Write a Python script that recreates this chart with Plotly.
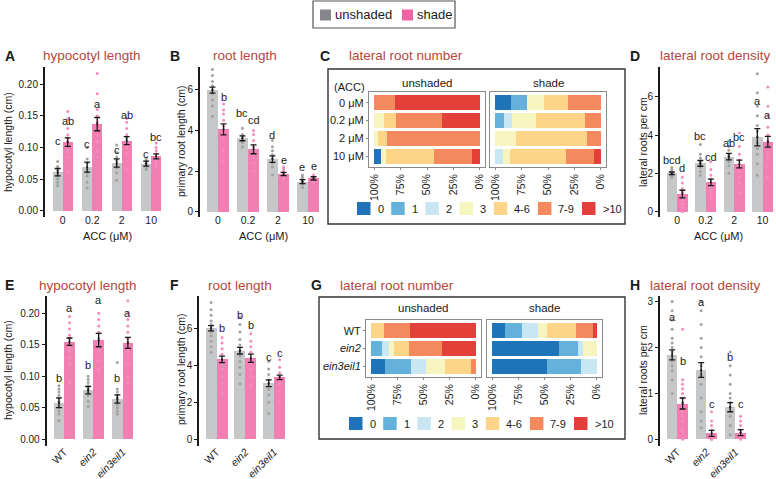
import plotly.graph_objects as go

W, H = 776, 479
FONT = "Liberation Sans, Arial, sans-serif"

# ---------------- data ----------------
acc_levels = ["0", "0.2", "2", "10"]
genotypes = ["WT", "<i>ein2</i>", "<i>ein3eil1</i>"]

# A: hypocotyl length (cm), ACC series
hypA_unsh = [0.061, 0.069, 0.0755, 0.0745]
hypA_unsh_se = [0.0058, 0.0079, 0.0066, 0.0040]
hypA_shade = [0.1085, 0.137, 0.111, 0.086]
hypA_shade_se = [0.0068, 0.0105, 0.0063, 0.0040]
hypA_let_unsh = ["c", "c", "c", "c"]
hypA_let_shade = ["ab", "a", "ab", "bc"]
hypA_lety_unsh = [0.111, 0.106, 0.0955, 0.090]
hypA_lety_shade = [0.1425, 0.169, 0.152, 0.116]
hypA_pts_unsh = [
    [0.040, 0.045, 0.050, 0.055, 0.060, 0.064, 0.070, 0.078],
    [0.036, 0.045, 0.055, 0.060, 0.066, 0.075, 0.082, 0.100],
    [0.048, 0.060, 0.068, 0.074, 0.080, 0.085, 0.092, 0.104],
    [0.065, 0.068, 0.072, 0.075, 0.078, 0.080, 0.083],
]
hypA_pts_shade = [
    [0.061, 0.085, 0.095, 0.105, 0.110, 0.115, 0.120, 0.130, 0.145, 0.157],
    [0.085, 0.095, 0.110, 0.120, 0.130, 0.140, 0.150, 0.160, 0.185, 0.217],
    [0.065, 0.090, 0.100, 0.105, 0.110, 0.115, 0.120, 0.130, 0.140, 0.146],
    [0.070, 0.075, 0.080, 0.085, 0.090, 0.095, 0.100, 0.107],
]

# B: primary root length (cm), ACC series
rootB_unsh = [5.98, 3.61, 2.59, 1.48]
rootB_unsh_se = [0.15, 0.12, 0.16, 0.10]
rootB_shade = [4.05, 3.07, 1.85, 1.64]
rootB_shade_se = [0.27, 0.22, 0.08, 0.08]
rootB_let_unsh = ["a", "bc", "d", "e"]
rootB_let_shade = ["b", "cd", "e", "e"]
rootB_lety_unsh = [7.2, 4.84, 3.77, 2.21]
rootB_lety_shade = [5.66, 4.51, 2.54, 2.25]
rootB_pts_unsh = [
    [4.7, 5.2, 5.5, 5.8, 6.0, 6.2, 6.4, 6.7, 7.0],
    [3.2, 3.4, 3.5, 3.6, 3.7, 3.8, 4.1],
    [1.8, 2.2, 2.4, 2.6, 2.8, 3.0, 3.2, 3.5],
    [1.2, 1.35, 1.45, 1.5, 1.6, 1.7, 1.8],
]
rootB_pts_shade = [
    [2.5, 3.0, 3.6, 3.9, 4.2, 4.5, 4.8, 5.0, 5.3],
    [2.0, 2.4, 2.7, 3.0, 3.2, 3.5, 3.8, 4.0],
    [1.6, 1.7, 1.8, 1.9, 2.0, 2.1, 2.2],
    [1.45, 1.55, 1.6, 1.65, 1.7, 1.8],
]

# D: lateral root density, ACC series
lrdD_unsh = [2.0, 2.52, 2.87, 3.88]
lrdD_unsh_se = [0.07, 0.15, 0.17, 0.45]
lrdD_shade = [0.92, 1.53, 2.49, 3.65]
lrdD_shade_se = [0.20, 0.17, 0.20, 0.28]
lrdD_let_unsh = ["bcd", "bc", "ab", "a"]
lrdD_let_shade = ["d", "cd", "bc", "a"]
lrdD_lety_unsh = [2.7, 3.95, 3.6, 5.8]
lrdD_lety_shade = [2.3, 2.85, 3.9, 5.05]
lrdD_pts_unsh = [
    [1.8, 1.9, 1.95, 2.0, 2.05, 2.1, 2.2, 2.3],
    [1.9, 2.1, 2.3, 2.4, 2.5, 2.6, 2.8, 3.0, 3.5],
    [2.0, 2.4, 2.6, 2.8, 2.9, 3.0, 3.2, 3.4, 3.7],
    [1.9, 2.5, 3.0, 3.3, 3.6, 3.9, 4.2, 4.5, 5.0, 5.5, 6.2, 7.2],
]
lrdD_pts_shade = [
    [0.0, 0.2, 0.4, 0.6, 0.8, 1.0, 1.2, 1.5, 1.8],
    [0.7, 0.9, 1.1, 1.3, 1.5, 1.7, 1.9, 2.2, 2.6],
    [1.0, 1.5, 1.8, 2.1, 2.4, 2.7, 3.0, 3.4, 4.1],
    [1.8, 2.4, 2.8, 3.1, 3.4, 3.7, 4.0, 4.4, 5.0, 5.5, 6.5],
]

# E: hypocotyl length (cm), genotypes
hypE_unsh = [0.058, 0.078, 0.064]
hypE_unsh_se = [0.0077, 0.0058, 0.0066]
hypE_shade = [0.155, 0.1575, 0.153]
hypE_shade_se = [0.0058, 0.0106, 0.0087]
hypE_let_unsh = ["b", "b", "b"]
hypE_let_shade = ["a", "a", "a"]
hypE_lety_unsh = [0.098, 0.118, 0.097]
hypE_lety_shade = [0.208, 0.221, 0.200]
hypE_pts_unsh = [
    [0.030, 0.040, 0.045, 0.050, 0.055, 0.060, 0.065, 0.070, 0.075, 0.080, 0.085],
    [0.052, 0.060, 0.070, 0.075, 0.080, 0.085, 0.090, 0.095, 0.100],
    [0.040, 0.045, 0.050, 0.055, 0.060, 0.065, 0.070, 0.075, 0.080, 0.122],
]
hypE_pts_shade = [
    [0.090, 0.120, 0.130, 0.140, 0.145, 0.150, 0.155, 0.160, 0.165, 0.175, 0.185, 0.195],
    [0.110, 0.125, 0.140, 0.150, 0.160, 0.170, 0.180, 0.190, 0.200],
    [0.090, 0.100, 0.120, 0.130, 0.140, 0.150, 0.155, 0.160, 0.170, 0.180, 0.190, 0.200, 0.220],
]

# F: primary root length (cm), genotypes
rootF_unsh = [6.0, 4.79, 3.03]
rootF_unsh_se = [0.14, 0.18, 0.18]
rootF_shade = [4.32, 4.38, 3.35]
rootF_shade_se = [0.18, 0.22, 0.12]
rootF_let_unsh = ["a", "b", "c"]
rootF_let_shade = ["b", "b", "c"]
rootF_lety_unsh = [7.75, 6.7, 4.46]
rootF_lety_shade = [6.0, 6.18, 4.65]
rootF_pts_unsh = [
    [4.7, 5.0, 5.3, 5.6, 5.8, 6.0, 6.2, 6.4, 6.7, 7.0, 7.4],
    [3.0, 3.5, 3.9, 4.2, 4.5, 4.8, 5.1, 5.4, 5.8, 6.2, 6.6],
    [1.4, 2.0, 2.4, 2.7, 3.0, 3.2, 3.5, 3.8, 4.2],
]
rootF_pts_shade = [
    [2.5, 3.0, 3.4, 3.8, 4.0, 4.3, 4.6, 4.9, 5.2, 5.5],
    [2.9, 3.4, 3.8, 4.1, 4.4, 4.7, 5.0, 5.3, 5.7],
    [2.0, 2.6, 3.0, 3.2, 3.4, 3.6, 3.9, 4.3],
]

# H: lateral root density, genotypes
lrdH_unsh = [1.84, 1.51, 0.70]
lrdH_unsh_se = [0.11, 0.16, 0.10]
lrdH_shade = [0.78, 0.13, 0.145]
lrdH_shade_se = [0.12, 0.065, 0.065]
lrdH_let_unsh = ["a", "a", "b"]
lrdH_let_shade = ["b", "c", "c"]
lrdH_lety_unsh = [2.67, 3.0, 1.8]
lrdH_lety_shade = [1.7, 0.77, 0.77]
lrdH_pts_unsh = [
    [1.0, 1.3, 1.5, 1.6, 1.7, 1.8, 1.9, 2.0, 2.1, 2.2, 2.4, 2.6, 2.8, 3.0],
    [0.25, 0.4, 0.6, 0.9, 1.2, 1.4, 1.6, 1.8, 2.0, 2.2, 2.5, 2.8, 3.0],
    [0.1, 0.3, 0.5, 0.6, 0.7, 0.8, 0.9, 1.0, 1.2, 1.4, 1.6, 1.9],
]
lrdH_pts_shade = [
    [0.0, 0.2, 0.4, 0.5, 0.6, 0.7, 0.8, 0.9, 1.0, 1.1, 1.2, 1.3, 2.4],
    [0.0, 0.0, 0.1, 0.1, 0.2, 0.3, 0.4, 0.6],
    [0.0, 0.05, 0.1, 0.15, 0.2, 0.3, 0.4, 0.5],
]

# C / G: lateral root number classes (% of seedlings)
lr_classes = ["0", "1", "2", "3", "4-6", "7-9", ">10"]
acc_rows = ["0 μM", "0.2 μM", "2 μM", "10 μM"]
lrnC_unsh = [
    [0, 0, 0, 0, 0, 20, 80],
    [0, 0, 0, 9, 12, 43, 36],
    [0, 0, 0, 4, 8, 88, 0],
    [6, 0, 0, 5, 46, 36, 7],
]
lrnC_shade = [
    [15, 15, 0, 16, 23, 31, 0],
    [0, 8, 8, 23, 46, 15, 0],
    [0, 0, 0, 20, 67, 13, 0],
    [0, 0, 7, 7, 53, 27, 6],
]
geno_rows = ["WT", "<i>ein2</i>", "<i>ein3eil1</i>"]
lrnG_unsh = [
    [0, 0, 0, 0, 12, 25, 63],
    [0, 10, 7, 5, 14, 32, 32],
    [13, 25, 14, 19, 24, 5, 0],
]
lrnG_shade = [
    [12, 16, 16, 8, 28, 16, 4],
    [64, 18, 5, 13, 0, 0, 0],
    [52, 33, 15, 0, 0, 0, 0],
]
pct_ticks = [100, 75, 50, 25, 0]

# ---------------- styles ----------------
GRAY_BAR = "#c5c7c9"
PINK_BAR = "#f17fb2"
GRAY_DOT = "#a2a2a2"
PINK_DOT = "#f58cbf"
GRAY_KEY = "#86878a"
PINK_KEY = "#f063a3"
TITLE_COL = "#b5473d"
INK = "#1a1a1a"
LR_COLORS = ["#1f74b9", "#64b2dc", "#c9e6f3", "#f6f4bf", "#fdd488", "#f3895c", "#e4403a"]


def X(px):
    return px / W


def Y(px):
    return 1 - px / H


fig = go.Figure()
axes_layout = {}
annotations = []
shapes = []
counter = [0]


def new_axes(xdom, ydom, xa, ya):
    counter[0] += 1
    i = counter[0]
    s = "" if i == 1 else str(i)
    xa.setdefault("anchor", "y" + s)
    xa.update(domain=[X(xdom[0]), X(xdom[1])], showgrid=False, zeroline=False)
    ya.update(domain=[Y(ydom[1]), Y(ydom[0])], anchor="x" + s, showgrid=False, zeroline=False)
    axes_layout["xaxis" + s] = xa
    axes_layout["yaxis" + s] = ya
    return "x" + s, "y" + s


def text(x, y, t, size=10.5, color=INK, xanchor="center", yanchor="middle", angle=0, xref="paper", yref="paper"):
    if xref == "paper":
        x = X(x)
    if yref == "paper":
        y = Y(y)
    annotations.append(dict(x=x, y=y, xref=xref, yref=yref, text=t, showarrow=False,
                            xanchor=xanchor, yanchor=yanchor, textangle=angle,
                            font=dict(size=size, color=color, family=FONT)))


def bar_panel(x0, unit, cats, ytop, ybot, zero, upx, yticks, yfmt, tickangle, w, label_px,
              u, use, s, sse, lu, ls, lyu, lys, pu, ps):
    n = len(cats)
    x1 = min(x0 + (n + 0.2) * unit, W)
    xa = dict(range=[-0.6, -0.6 + (x1 - x0) / unit], tickvals=list(range(n)), ticktext=cats,
              tickangle=tickangle, showline=False, ticks="", anchor="free", position=Y(label_px),
              tickfont=dict(size=10.5, color=INK, family=FONT))
    ya = dict(range=[(zero - ybot) / upx, (zero - ytop) / upx], tickvals=yticks, tickformat=yfmt,
              showline=True, linewidth=2, linecolor=INK, ticks="outside", ticklen=3,
              tickwidth=1, tickcolor=INK, tickfont=dict(size=10, color=INK, family=FONT))
    xs, ys = new_axes((x0, x1), (ytop, ybot), xa, ya)
    gx = [i - w / 2 for i in range(n)]
    sx = [i + w / 2 for i in range(n)]
    fig.add_trace(go.Bar(x=gx, y=u, width=w, marker=dict(color=GRAY_BAR, line=dict(width=0)),
                         xaxis=xs, yaxis=ys, showlegend=False, hoverinfo="skip"))
    fig.add_trace(go.Bar(x=sx, y=s, width=w, marker=dict(color=PINK_BAR, line=dict(width=0)),
                         xaxis=xs, yaxis=ys, showlegend=False, hoverinfo="skip"))
    for xpos, pts, col in list(zip(gx, pu, [GRAY_DOT] * n)) + list(zip(sx, ps, [PINK_DOT] * n)):
        fig.add_trace(go.Scatter(x=[xpos] * len(pts), y=pts, mode="markers",
                                 marker=dict(size=3, color=col, line=dict(width=0)),
                                 xaxis=xs, yaxis=ys, showlegend=False, hoverinfo="skip"))
    fig.add_trace(go.Scatter(x=gx + sx, y=u + s, mode="markers",
                             marker=dict(size=2, color=INK),
                             error_y=dict(type="data", array=use + sse, color=INK, thickness=1.3, width=3),
                             xaxis=xs, yaxis=ys, showlegend=False, hoverinfo="skip"))
    for xpos, t, yv in zip(gx + sx, lu + ls, lyu + lys):
        text(xpos, yv, t, size=11, xref=xs, yref=ys)


def stacked_panel(xdom, ydom, rows, data, show_labels):
    n = len(rows)
    xa = dict(range=[105, -5], tickvals=pct_ticks, ticktext=[f"{v}%" for v in pct_ticks],
              tickangle=-90, showline=True, mirror=True, linecolor="#8a8a8a", linewidth=1,
              ticks="outside", ticklen=2, tickcolor="#8a8a8a",
              tickfont=dict(size=10.5, color=INK, family=FONT))
    ya = dict(type="category", categoryorder="array", categoryarray=rows,
              range=[n - 0.4, -0.6], showline=True, mirror=True, linecolor="#8a8a8a", linewidth=1,
              ticks="outside" if show_labels else "", ticklen=2, tickcolor="#8a8a8a",
              showticklabels=show_labels, tickfont=dict(size=11, color=INK, family=FONT))
    xs, ys = new_axes(xdom, ydom, xa, ya)
    for k in reversed(range(len(lr_classes))):
        fig.add_trace(go.Bar(orientation="h", y=rows, x=[r[k] for r in data], width=0.86,
                             marker=dict(color=LR_COLORS[k], line=dict(width=0)),
                             xaxis=xs, yaxis=ys, showlegend=False, hoverinfo="skip"))


def class_legend(xstart, yc):
    x = xstart
    for cls, col in zip(lr_classes, LR_COLORS):
        shapes.append(dict(type="rect", xref="paper", yref="paper", x0=X(x), x1=X(x + 13.5),
                           y0=Y(yc + 6.5), y1=Y(yc - 6.5), fillcolor=col, line=dict(width=0)))
        text(x + 18.5, yc, cls, size=11, xanchor="left")
        tw = sum(3.7 if ch == "-" else 6.2 for ch in cls)
        x += 13.5 + 5 + tw + 9.5


def box(x0, y0, x1, y1, color="#333333", width=1.4):
    shapes.append(dict(type="rect", xref="paper", yref="paper", x0=X(x0), x1=X(x1),
                       y0=Y(y1), y1=Y(y0), line=dict(color=color, width=width), fillcolor="rgba(0,0,0,0)"))


# ---------------- row 1 ----------------
bar_panel(45, 29.5, acc_levels, 67, 217, 210.7, 632, [0, 0.05, 0.10, 0.15, 0.20], ".2f", 0, 0.34, 212,
          hypA_unsh, hypA_unsh_se, hypA_shade, hypA_shade_se, hypA_let_unsh, hypA_let_shade,
          hypA_lety_unsh, hypA_lety_shade, hypA_pts_unsh, hypA_pts_shade)
bar_panel(200, 30, acc_levels, 67, 217, 211.7, 20.33, [0, 2, 4, 6], "d", 0, 0.37, 212,
          rootB_unsh, rootB_unsh_se, rootB_shade, rootB_shade_se, rootB_let_unsh, rootB_let_shade,
          rootB_lety_unsh, rootB_lety_shade, rootB_pts_unsh, rootB_pts_shade)
bar_panel(660, 28.5, acc_levels, 67, 217, 211.7, 19.17, [0, 2, 4, 6], "d", 0, 0.37, 212,
          lrdD_unsh, lrdD_unsh_se, lrdD_shade, lrdD_shade_se, lrdD_let_unsh, lrdD_let_shade,
          lrdD_lety_unsh, lrdD_lety_shade, lrdD_pts_unsh, lrdD_pts_shade)
stacked_panel((369, 485), (92, 167), acc_rows, lrnC_unsh, True)
stacked_panel((490, 606), (92, 167), acc_rows, lrnC_shade, False)

# ---------------- row 2 ----------------
bar_panel(46.7, 29.2, genotypes, 296, 446, 439.3, 630, [0, 0.05, 0.10, 0.15, 0.20], ".2f", -45, 0.36, 443,
          hypE_unsh, hypE_unsh_se, hypE_shade, hypE_shade_se, hypE_let_unsh, hypE_let_shade,
          hypE_lety_unsh, hypE_lety_shade, hypE_pts_unsh, hypE_pts_shade)
bar_panel(199.3, 28.8, genotypes, 296, 446, 439.3, 18.5, [0, 2, 4, 6], "d", -45, 0.38, 443,
          rootF_unsh, rootF_unsh_se, rootF_shade, rootF_shade_se, rootF_let_unsh, rootF_let_shade,
          rootF_lety_unsh, rootF_lety_shade, rootF_pts_unsh, rootF_pts_shade)
bar_panel(660, 29, genotypes, 296, 446, 439.3, 45.9, [0, 1, 2, 3], "d", -45, 0.36, 443,
          lrdH_unsh, lrdH_unsh_se, lrdH_shade, lrdH_shade_se, lrdH_let_unsh, lrdH_let_shade,
          lrdH_lety_unsh, lrdH_lety_shade, lrdH_pts_unsh, lrdH_pts_shade)
stacked_panel((366, 481), (320, 377), geno_rows, lrnG_unsh, True)
stacked_panel((487, 602), (320, 377), geno_rows, lrnG_shade, False)

# ---------------- decorations ----------------
# top legend
box(313, 1, 455, 28, color="#555555", width=1.2)
shapes.append(dict(type="rect", xref="paper", yref="paper", x0=X(320), x1=X(331), y0=Y(20.5), y1=Y(9.5),
                   fillcolor=GRAY_KEY, line=dict(width=0)))
shapes.append(dict(type="rect", xref="paper", yref="paper", x0=X(402), x1=X(413), y0=Y(20.5), y1=Y(9.5),
                   fillcolor=PINK_KEY, line=dict(width=0)))
text(333, 15, "unshaded", size=13, xanchor="left")
text(415, 15, "shade", size=13, xanchor="left")

# C and G frames
box(328, 69, 625, 224)
box(319, 297, 625, 439)
text(367, 87, "(ACC)", size=11, xanchor="right")
text(427, 83, "unshaded", size=11.5)
text(548, 83, "shade", size=11.5)
text(423.5, 308, "unshaded", size=11.5)
text(544.5, 308, "shade", size=11.5)
class_legend(357, 208.5)
class_legend(349, 423.5)

# panel letters and titles
for lx, ly, lt in [(3, 56, "A"), (168, 56, "B"), (318, 56, "C"), (628, 56, "D"),
                   (3, 285, "E"), (168, 285, "F"), (309, 285, "G"), (628, 285, "H")]:
    text(lx, ly, "<b>" + lt + "</b>", size=14, xanchor="left")
text(92, 56, "hypocotyl length", size=13.5, color=TITLE_COL)
text(245, 56, "root length", size=13.5, color=TITLE_COL)
text(347, 56, "lateral root number", size=13.5, color=TITLE_COL, xanchor="left")
text(715, 56, "lateral root density", size=13.5, color=TITLE_COL)
text(88, 285, "hypocotyl length", size=13.5, color=TITLE_COL)
text(240, 285, "root length", size=13.5, color=TITLE_COL)
text(338, 285, "lateral root number", size=13.5, color=TITLE_COL, xanchor="left")
text(705, 285, "lateral root density", size=13.5, color=TITLE_COL)

# axis titles
text(8, 142, "hypocotyl length (cm)", size=10.5, angle=-90)
text(181, 142, "primary root length (cm)", size=10.5, angle=-90)
text(643, 142, "lateral roots per cm", size=10.5, angle=-90)
text(8, 370, "hypocotyl length (cm)", size=10.5, angle=-90)
text(181, 370, "primary root length (cm)", size=10.5, angle=-90)
text(643, 370, "lateral roots per cm", size=10.5, angle=-90)
text(107, 236, "ACC (μM)", size=11)
text(263, 236, "ACC (μM)", size=11)
text(718, 236, "ACC (μM)", size=11)

fig.update_layout(width=W, height=H, margin=dict(l=0, r=0, t=0, b=0),
                  paper_bgcolor="white", plot_bgcolor="white", barmode="stack",
                  showlegend=False, font=dict(family=FONT, color=INK),
                  annotations=annotations, shapes=shapes, **axes_layout)

fig.write_html("out.html", config={"displayModeBar": False},
               post_script="document.body.style.margin='0';")
